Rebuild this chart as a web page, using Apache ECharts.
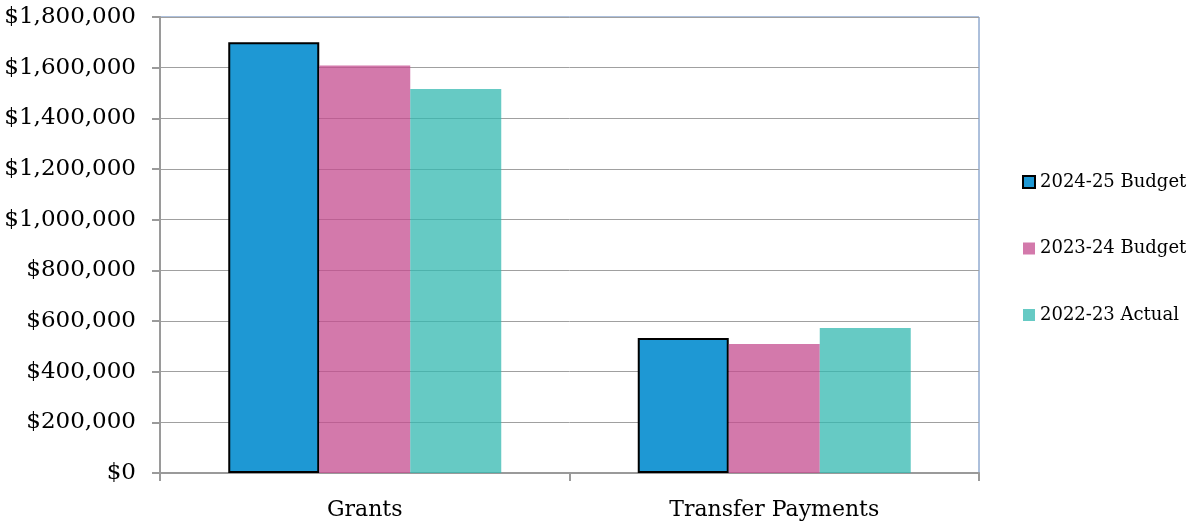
<!DOCTYPE html>
<html>
<head>
<meta charset="utf-8">
<script src="https://cdn.jsdelivr.net/npm/echarts@6/dist/echarts.min.js"></script>
<style>
  html, body { margin: 0; padding: 0; background: #fff; }
  #chart { width: 1197px; height: 524px; }
</style>
</head>
<body>
<div id="chart"></div>
<script>
// categories and values
var categories = ['Grants', 'Transfer Payments'];
var seriesNames = ['2024-25 Budget', '2023-24 Budget', '2022-23 Actual'];
var budget2425 = [1700000, 533000];
var budget2324 = [1609000, 509000];
var actual2223 = [1516000, 572000];

var font = 'DejaVu Serif';

function money(v) {
  return '$' + String(v).replace(/\B(?=(\d{3})+(?!\d))/g, ',');
}

var chart = echarts.init(document.getElementById('chart'));
chart.setOption({
  backgroundColor: '#fff',
  animation: false,
  grid: {
    left: 160, right: 218, top: 17, bottom: 51,
    show: true,
    borderColor: '#5a80b8',
    borderWidth: 1
  },
  legend: {
    orient: 'vertical',
    left: 1017,
    top: 168,
    icon: 'rect',
    itemWidth: 12,
    itemHeight: 12,
    itemGap: 48.5,
    textStyle: { fontFamily: font, fontSize: 18, color: '#000' },
    data: seriesNames
  },
  xAxis: {
    type: 'category',
    data: categories,
    axisLine: { lineStyle: { color: '#9a9a9a', width: 2 } },
    axisTick: { show: true, length: 8, lineStyle: { color: '#9a9a9a', width: 2 } },
    axisLabel: { margin: 26, fontFamily: font, fontSize: 22, color: '#000' }
  },
  yAxis: {
    type: 'value',
    min: 0,
    max: 1800000,
    interval: 200000,
    axisLine: { show: true, lineStyle: { color: '#9a9a9a', width: 2 } },
    axisTick: { show: true, length: 8, lineStyle: { color: '#9a9a9a', width: 2 } },
    splitLine: { lineStyle: { color: '#a0a0a0', width: 1 } },
    axisLabel: {
      margin: 24,
      fontFamily: font,
      fontSize: 23,
      color: '#000',
      formatter: money
    }
  },
  series: [
    {
      name: seriesNames[0],
      type: 'bar',
      data: budget2425,
      barWidth: 91,
      barGap: '0%',
      itemStyle: { color: '#1e98d4', borderColor: '#000', borderWidth: 2 }
    },
    {
      name: seriesNames[1],
      type: 'bar',
      data: budget2324,
      barWidth: 91,
      itemStyle: { color: 'rgba(196,76,143,0.75)' }
    },
    {
      name: seriesNames[2],
      type: 'bar',
      data: actual2223,
      barWidth: 91,
      itemStyle: { color: 'rgba(51,184,176,0.75)' }
    }
  ]
});
</script>
</body>
</html>
